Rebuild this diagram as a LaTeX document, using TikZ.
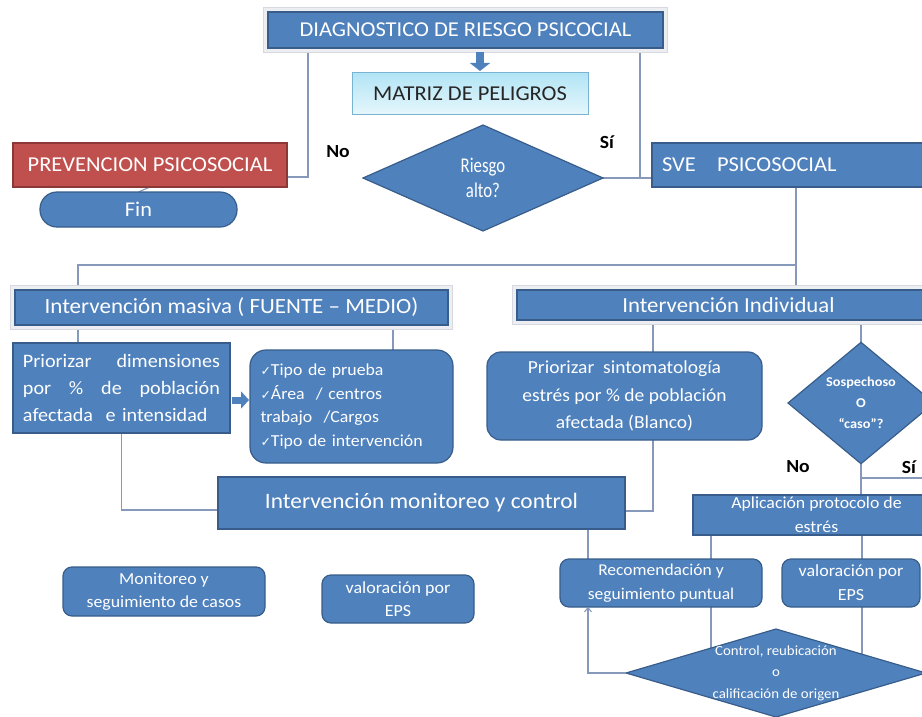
\documentclass[tikz,border=0pt]{standalone}
\usepackage{fontspec}
\setmainfont{Carlito}[FakeStretch=1.06]
\newfontfamily\narrowfont{Carlito}[FakeStretch=0.8]
\newfontfamily\symfont{DejaVu Sans}
\usetikzlibrary{shapes.geometric,arrows.meta,backgrounds,calc}
\definecolor{boxblue}{RGB}{79,129,189}
\definecolor{boxedge}{RGB}{56,93,138}
\definecolor{boxred}{RGB}{192,80,77}
\definecolor{rededge}{RGB}{140,56,54}
\definecolor{linegray}{RGB}{135,153,186}
\definecolor{cyantop}{RGB}{178,228,245}
\definecolor{cyanbot}{RGB}{230,247,252}
\definecolor{cyanedge}{RGB}{120,180,210}
\definecolor{glowgray}{RGB}{236,238,242}
\definecolor{glowedge}{RGB}{214,218,224}
\newcommand{\myfs}[2]{\fontsize{#1}{#2}\selectfont}
\newcommand{\ck}{{\symfont\fontsize{12.5}{12}\selectfont ✓}}
\begin{document}
\begin{tikzpicture}[x=1pt,y=-1pt,
  every node/.style={inner sep=0pt, outer sep=0pt},
  bbox/.style={draw=boxedge, line width=1.2pt, fill=boxblue, text=white, align=center},
  glow/.style={preaction={draw=glowedge, line width=10pt}, preaction={draw=glowgray, line width=8pt}},
  rbox/.style={bbox, rounded corners=9pt},
  diam/.style={diamond, bbox},
  conn/.style={draw=linegray, line width=1.1pt},
  yesno/.style={font=\myfs{18.5}{20}\bfseries, text=black},
  blockarr/.style={draw=boxblue, line width=8pt, -{Triangle[width=20pt,length=8pt]}},
]
\useasboundingbox (0,0) rectangle (922,717);
\clip (0,0) rectangle (922,717);

% top part
\node[bbox, glow, minimum width=395pt, minimum height=36pt, font=\myfs{21.2}{24}] (diag) at (465.5,30) {DIAGNOSTICO DE RIESGO PSICOCIAL};
\node[draw=cyanedge, line width=1pt, top color=cyantop, bottom color=cyanbot, minimum width=236pt, minimum height=42pt, font=\myfs{21.2}{24}, text=black!85] (matriz) at (470,94) {MATRIZ DE PELIGROS};
\node[bbox, fill=boxred, draw=rededge, minimum width=274pt, minimum height=44pt, font=\myfs{21.2}{24}] (prev) at (150,165) {PREVENCION PSICOSOCIAL};
\node[bbox, rounded corners=17pt, minimum width=197pt, minimum height=35pt, font=\myfs{21}{24}] (fin) at (138.5,209.5) {Fin};
\node[diam, minimum width=240pt, minimum height=106pt, font=\narrowfont\myfs{21}{25}] (riesgo) at (483,178) {Riesgo\\alto?};
\node[bbox, minimum width=288pt, minimum height=44pt, text width=268pt, align=left, font=\myfs{21.2}{24}] (sve) at (796,165) {SVE\ \ \ PSICOSOCIAL};

\node[yesno] (lno1) at (338,152) {No};
\node[yesno] (lsi1) at (607,142) {Sí};

% second level
\node[bbox, glow, minimum width=433pt, minimum height=35pt, font=\myfs{21.7}{24}] (masiva) at (231.5,307.5) {Intervención masiva ( FUENTE – MEDIO)};
\node[bbox, glow, minimum width=423pt, minimum height=30pt, font=\myfs{21.5}{24}] (indiv) at (728.5,305) {Intervención Individual};

\node[bbox, line width=1.5pt, minimum width=217pt, minimum height=90pt, text width=197pt, align=left, font=\myfs{19}{27}] (prior1) at (121.5,388) {Priorizar\hfill dimensiones\\por\hfill\%\hfill de\hfill población\\afectada\ \ e intensidad};
\node[bbox, rounded corners=16pt, minimum width=203pt, minimum height=113pt, text width=182pt, align=left, font=\myfs{16.8}{23.5}] (check) at (351.5,406.5) {\ck Tipo de prueba\\\ck Área\ \ / centros\\trabajo\ \ /Cargos\\\ck Tipo de intervención};
\node[bbox, rounded corners=14pt, minimum width=275pt, minimum height=88pt, font=\myfs{18.4}{27.5}] (prior2) at (624.5,396) {Priorizar\ \ sintomatología\\estrés por \% de población\\afectada (Blanco)};
\node[diam, minimum width=146pt, minimum height=103pt, font=\myfs{13.5}{21}\bfseries] (sosp) at (861,403) {Sospechoso\\O\\“caso”?};

\node[yesno] (lno2) at (798,467) {No};
\node[yesno] (lsi2) at (909,467) {Sí};

% third level
\node[bbox, line width=1.5pt, minimum width=407pt, minimum height=52pt, font=\myfs{22}{24}] (monit) at (421.5,503) {Intervención monitoreo y control};
\node[bbox, minimum width=247pt, minimum height=40pt, font=\myfs{16.8}{24}] (aplic) at (816.5,515) {Aplicación protocolo de\\estrés};

\node[rbox, minimum width=202pt, minimum height=49pt, font=\myfs{16.8}{23}] (moncas) at (164,591.5) {Monitoreo y\\seguimiento de casos};
\node[rbox, minimum width=152pt, minimum height=48pt, font=\myfs{17}{23}] (eps1) at (398,599) {valoración por\\EPS};
\node[rbox, minimum width=202pt, minimum height=48pt, font=\myfs{16.5}{24}] (recom) at (661,583) {Recomendación y\\seguimiento puntual};
\node[rbox, minimum width=138pt, minimum height=48pt, font=\myfs{17}{24}] (eps2) at (851,583) {valoración por\\EPS};
\node[diam, minimum width=300pt, minimum height=88pt, label={[text=white, align=center, font=\myfs{14}{21.5}]center:Control, reubicación\\o\\calificación de origen}] (control) at (776,673) {};

\coordinate (j1) at ($(sve.south)+(0,78)$);
\coordinate (si) at (930,478);

% block arrows
\draw[blockarr] ([xshift=14.5pt,yshift=-4pt]diag.south) -- ([xshift=10pt,yshift=2pt]matriz.north);
\draw[draw=boxblue, line width=7pt, -{Triangle[width=17pt,length=8pt]}] ([xshift=2pt,yshift=-12pt]prior1.east) -- ([xshift=-1pt,yshift=6.5pt]check.west);

% connectors
\begin{pgfonlayer}{background}
\draw[conn] ([xshift=40pt]diag.south west) |- ([yshift=-12pt]prev.east);
\draw[conn] ([xshift=-23pt]diag.south east) -- ([xshift=-23pt]diag.south east |- riesgo.east);
\draw[conn] (riesgo.east) -- (riesgo.east -| sve.west);
\draw[conn] (prev.south) -- (fin.north);
\draw[conn] (sve.south) -- (sve.south |- indiv.north);
\draw[conn] (j1) -| ([xshift=63pt]masiva.north west);
\draw[conn] ([xshift=63pt]masiva.south west) -- ([xshift=63pt]masiva.south west |- prior1.north);
\draw[conn] ([xshift=-55pt]masiva.south east) -- ([xshift=-55pt]masiva.south east |- check.north);
\draw[conn] (prior1.south) |- ([yshift=-7pt]monit.west);
\draw[conn] ([xshift=136pt]indiv.south west) -- ([xshift=136pt]indiv.south west |- prior2.north);
\draw[conn] ([xshift=28.5pt]prior2.south) |- ([yshift=-8pt]monit.east);
\draw[conn] (sosp.north |- indiv.south) -- (sosp.north);
\draw[conn] (sosp.south) -- (sosp.south |- aplic.north);
\draw[conn] (sosp.south |- si) -- (si);
\draw[conn] ([xshift=-37pt]monit.south east) -- ([xshift=-37pt]monit.south east |- recom.north);
\draw[conn] ([xshift=18pt]aplic.south west) -- ([xshift=18pt]aplic.south west |- control.center);
\draw[conn] ([xshift=169pt]aplic.south west) -- ([xshift=169pt]aplic.south west |- control.center);
\end{pgfonlayer}
\draw[conn, -{Straight Barb[length=4pt,width=7pt]}] (control.west) -| ([xshift=28pt]recom.south west);
\end{tikzpicture}
\end{document}
